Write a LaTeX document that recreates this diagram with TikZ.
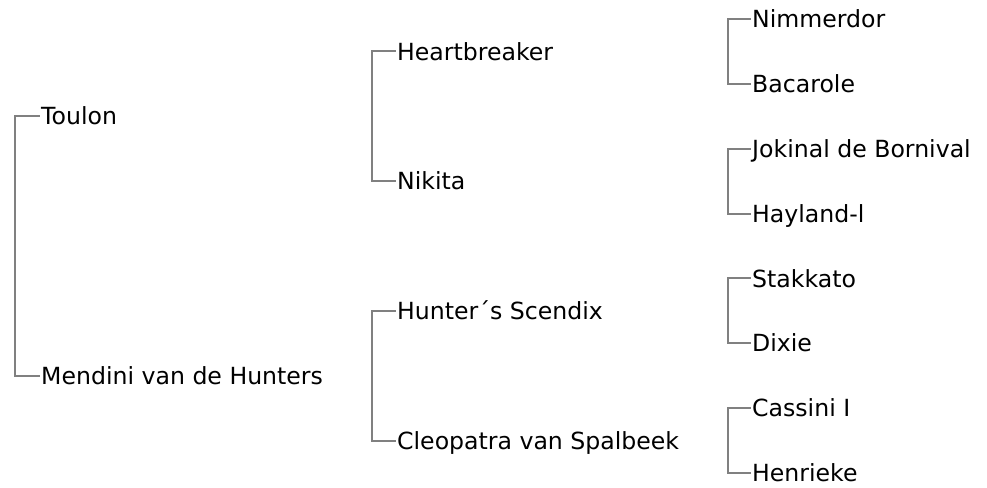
\documentclass[tikz,border=0pt]{standalone}
\usepackage{fontspec}
\setmainfont{DejaVu Sans}
\definecolor{linegray}{RGB}{128,128,128}
\definecolor{txt}{RGB}{0,0,0}
\begin{document}
\begin{tikzpicture}[x=1pt,y=-1pt,
  lbl/.style={anchor=west,inner sep=0pt,text height=17.2pt,text depth=0pt,text=txt,font=\fontsize{23.6}{28}\selectfont},
  br/.style={draw=linegray,line width=2pt}]
\useasboundingbox (0,0) rectangle (987,487);
% level 0
\node[lbl] (toulon) at (41,116.3) {Toulon};
\node[lbl] (mendini) at (41,375.8) {Mendini van de Hunters};
% level 1
\node[lbl] (heart) at (397,51.4) {Heartbreaker};
\node[lbl] (nikita) at (397,181.1) {Nikita};
\node[lbl] (hunter) at (397,310.9) {Hunter´s Scendix};
\node[lbl] (cleo) at (397,440.6) {Cleopatra van Spalbeek};
% level 2
\node[lbl] (nimm) at (752,19) {Nimmerdor};
\node[lbl] (baca) at (752,83.9) {Bacarole};
\node[lbl] (joki) at (752,148.7) {Jokinal de Bornival};
\node[lbl] (hay) at (752,213.6) {Hayland-l};
\node[lbl] (stak) at (752,278.4) {Stakkato};
\node[lbl] (dixie) at (752,343.3) {Dixie};
\node[lbl] (cass) at (752,408.2) {Cassini I};
\node[lbl] (henr) at (752,473) {Henrieke};
% brackets
\draw[br] ([xshift=-1.5pt]toulon.west) -| ([xshift=-26pt]mendini.west) -- ([xshift=-1.5pt]mendini.west);
\draw[br] ([xshift=-1.5pt]heart.west) -| ([xshift=-25pt]nikita.west) -- ([xshift=-1.5pt]nikita.west);
\draw[br] ([xshift=-1.5pt]hunter.west) -| ([xshift=-25pt]cleo.west) -- ([xshift=-1.5pt]cleo.west);
\draw[br] ([xshift=-1.5pt]nimm.west) -| ([xshift=-24pt]baca.west) -- ([xshift=-1.5pt]baca.west);
\draw[br] ([xshift=-1.5pt]joki.west) -| ([xshift=-24pt]hay.west) -- ([xshift=-1.5pt]hay.west);
\draw[br] ([xshift=-1.5pt]stak.west) -| ([xshift=-24pt]dixie.west) -- ([xshift=-1.5pt]dixie.west);
\draw[br] ([xshift=-1.5pt]cass.west) -| ([xshift=-24pt]henr.west) -- ([xshift=-1.5pt]henr.west);
\end{tikzpicture}
\end{document}
